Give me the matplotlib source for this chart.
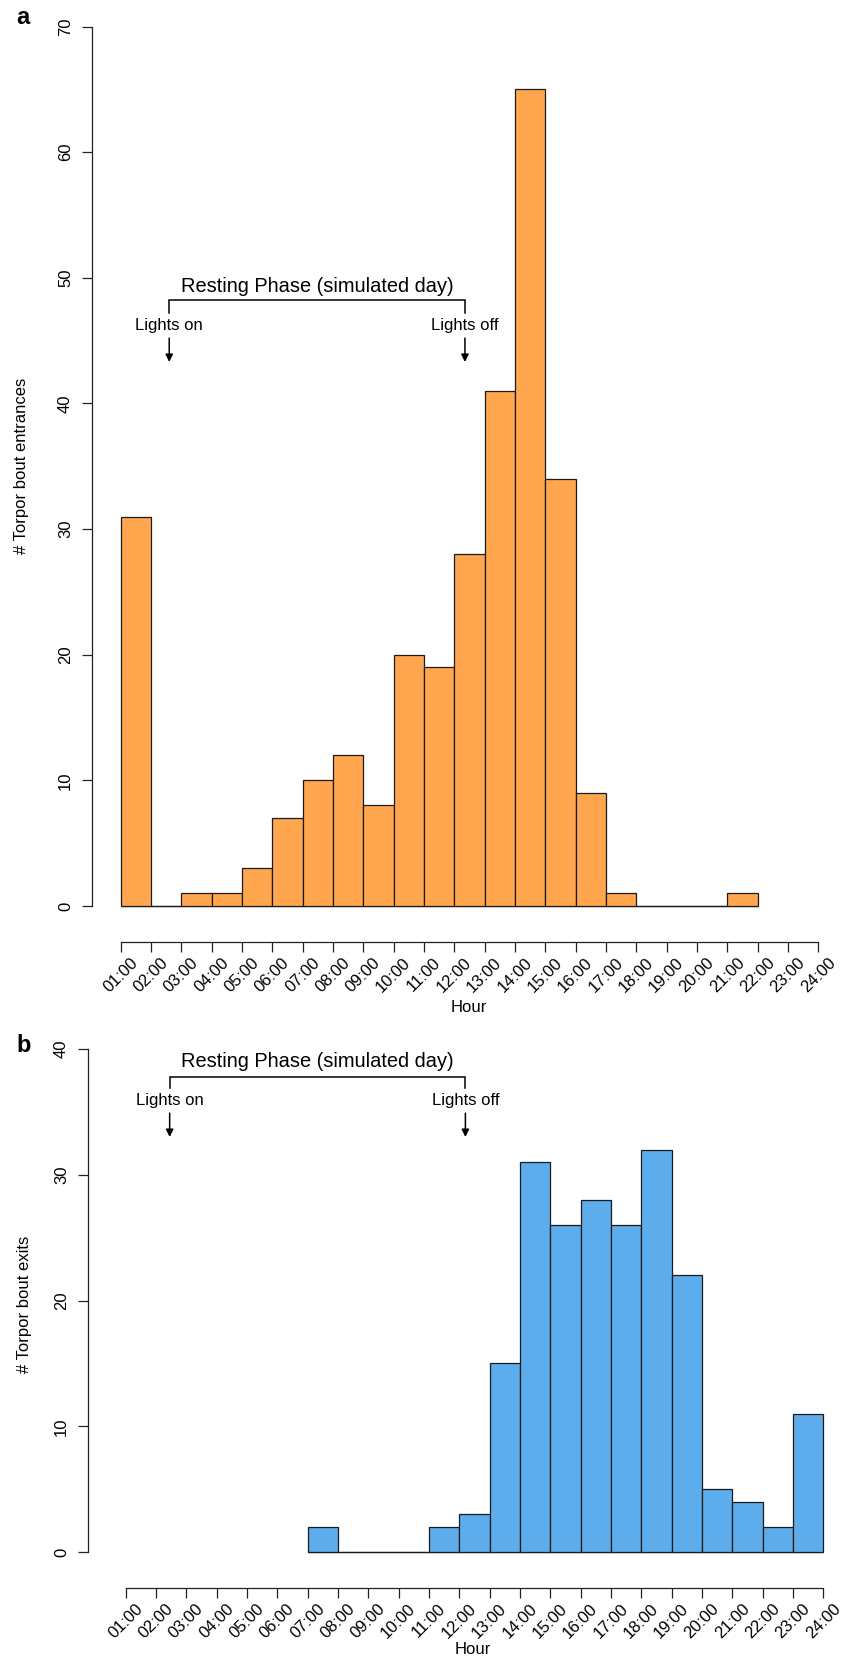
import matplotlib
matplotlib.use("Agg")
import matplotlib.pyplot as plt

plt.rcParams["font.family"] = ["Liberation Sans", "DejaVu Sans"]

# ---- data ---------------------------------------------------------------
hour_ticks = [1, 2, 3, 4, 5, 6, 7, 8, 9, 10, 11, 12,
              13, 14, 15, 16, 17, 18, 19, 20, 21, 22, 23, 24]
hour_labels = ["01:00", "02:00", "03:00", "04:00", "05:00", "06:00",
               "07:00", "08:00", "09:00", "10:00", "11:00", "12:00",
               "13:00", "14:00", "15:00", "16:00", "17:00", "18:00",
               "19:00", "20:00", "21:00", "22:00", "23:00", "24:00"]

# torpor bout entrances, hourly bins starting at 01:00 (last bin 21:00-22:00)
entrance_bins = [1, 2, 3, 4, 5, 6, 7, 8, 9, 10, 11,
                 12, 13, 14, 15, 16, 17, 18, 19, 20, 21]
entrance_counts = [31, 0, 1, 1, 3, 7, 10, 12, 8, 20, 19,
                   28, 41, 65, 34, 9, 1, 0, 0, 0, 1]

# torpor bout exits, hourly bins starting at 07:00 (last bin 23:00-24:00)
exit_bins = [7, 8, 9, 10, 11, 12, 13, 14, 15, 16, 17, 18, 19, 20, 21, 22, 23]
exit_counts = [2, 0, 0, 0, 2, 3, 15, 31, 26, 28, 26, 32, 22, 5, 4, 2, 11]

entrance_yticks = [0, 10, 20, 30, 40, 50, 60, 70]
exit_yticks = [0, 10, 20, 30, 40]

ORANGE = "#FFA64E"
BLUE = "#5DACEC"
EDGE = "#1a1a1a"

# ---- figure -------------------------------------------------------------
W, H = 859, 1661
fig = plt.figure(figsize=(W / 100, H / 100), dpi=100)


def add_axes_px(left, right, top, bottom):
    return fig.add_axes([left / W, 1 - bottom / H,
                         (right - left) / W, (bottom - top) / H])


def histogram(ax, bins, counts, color):
    bars = ax.bar(bins, counts, width=1, align="edge",
                  color=color, edgecolor=EDGE, linewidth=0.9, zorder=2)
    for b in bars:
        b.set_clip_on(False)
    # empty bins still show as a flat outline along zero
    ax.plot([bins[0], bins[-1] + 1], [0, 0], color=EDGE, lw=0.9,
            zorder=1, solid_capstyle="butt", clip_on=False)


def style_axes(ax, ymax, yticks):
    for side in ("top", "right"):
        ax.spines[side].set_visible(False)
    ax.spines["left"].set_bounds(0, ymax)
    ax.spines["bottom"].set_bounds(hour_ticks[0], hour_ticks[-1])
    ax.spines["bottom"].set_position(("outward", 25.7))
    for side in ("left", "bottom"):
        ax.spines[side].set_linewidth(0.9)
        ax.spines[side].set_color("#222222")
    ax.set_ylim(0, ymax)
    ax.set_yticks(yticks)
    ax.set_yticklabels([str(v) for v in yticks])
    ax.set_xticks(hour_ticks)
    ax.set_xticklabels(hour_labels)
    ax.tick_params(axis="y", length=7.2, width=0.9, color="#222222",
                   pad=6.5, labelsize=12, labelrotation=90)
    ax.tick_params(axis="x", length=7.2, width=0.9, color="#222222",
                   pad=2.5, labelsize=12, labelrotation=45)
    for lab in ax.get_yticklabels():
        lab.set_va("center")
    for lab in ax.get_xticklabels():
        lab.set_ha("center")
    ax.patch.set_visible(False)


def resting_phase(ax, x_on, x_off, y_text, y_bar, y_tick, y_lab, y_arr0, y_arr1):
    ax.text((x_on + x_off) / 2, y_text, "Resting Phase (simulated day)",
            ha="center", va="center", fontsize=14.4)
    ax.plot([x_on, x_on, x_off, x_off], [y_tick, y_bar, y_bar, y_tick],
            color="black", lw=1.1, solid_joinstyle="miter", clip_on=False)
    for x, lab in ((x_on, "Lights on"), (x_off, "Lights off")):
        ax.text(x, y_lab, lab, ha="center", va="center", fontsize=12)
        ax.annotate("", xy=(x, y_arr1), xytext=(x, y_arr0),
                    arrowprops=dict(arrowstyle="-|>", color="black", lw=1.1,
                                    mutation_scale=11, shrinkA=0, shrinkB=0))


# ---- panel a: entrances -------------------------------------------------
ax_a = add_axes_px(92, 830, 26.5, 906)
px_per_hour = 30.33
ax_a.set_xlim(1 - (120.7 - 92) / px_per_hour, 1 + (830 - 120.7) / px_per_hour)
histogram(ax_a, entrance_bins, entrance_counts, ORANGE)
style_axes(ax_a, 70, entrance_yticks)
resting_phase(ax_a, 2.6, 12.35, 49.3, 48.2, 47.2, 46.2, 45.2, 43.3)
fig.text(22 / W, 1 - 466 / H, "# Torpor bout entrances", rotation=90,
         ha="center", va="center", fontsize=12)
fig.text(469 / W, 1 - 1007 / H, "Hour", ha="center", va="center", fontsize=12)
fig.text(22.5 / W, 1 - 18 / H, "a", ha="center", va="center",
         fontsize=17, fontweight="bold")

# ---- panel b: exits -----------------------------------------------------
ax_b = add_axes_px(88, 830, 1049, 1552)
ax_b.set_xlim(1 - (125.7 - 88) / px_per_hour, 1 + (830 - 125.7) / px_per_hour)
histogram(ax_b, exit_bins, exit_counts, BLUE)
style_axes(ax_b, 40, exit_yticks)
resting_phase(ax_b, 2.45, 12.2, 39.0, 37.8, 36.9, 35.9, 34.9, 33.0)
fig.text(25 / W, 1 - 1304 / H, "# Torpor bout exits", rotation=90,
         ha="center", va="center", fontsize=12)
fig.text(473 / W, 1 - 1650 / H, "Hour", ha="center", va="center", fontsize=12)
fig.text(23.5 / W, 1 - 1045 / H, "b", ha="center", va="center",
         fontsize=17, fontweight="bold")

fig.savefig("out.png", dpi=100, facecolor="white")
